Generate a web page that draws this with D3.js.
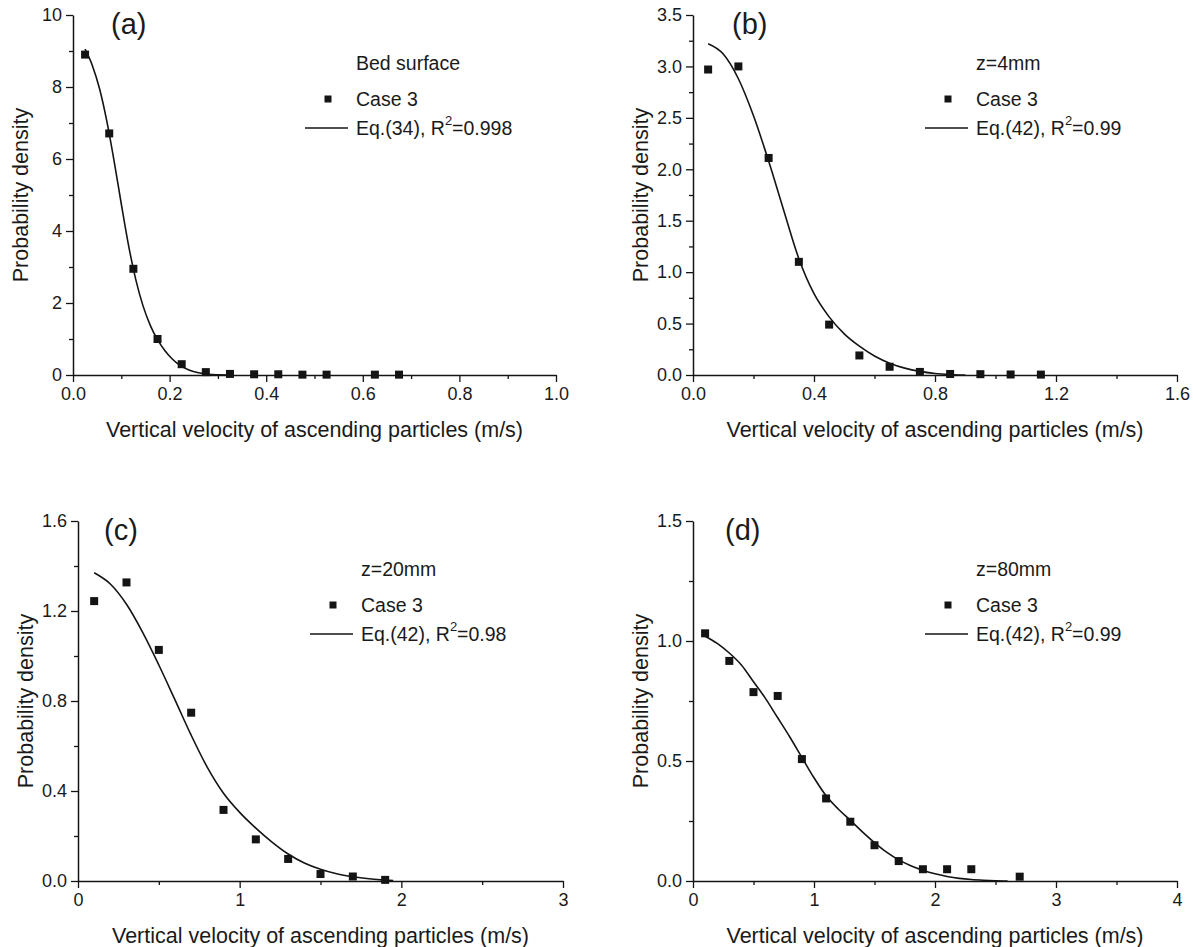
<!DOCTYPE html>
<html>
<head>
<meta charset="utf-8">
<script src="https://cdn.jsdelivr.net/npm/d3@7"></script>
<style>
  body { margin: 0; background: #fff; }
  text { font-family: "Liberation Sans", Arial, Helvetica, sans-serif; fill: #1a1a1a; }
</style>
</head>
<body>
<svg id="fig" width="1193" height="947"></svg>
<script>
// ---- (a) bed surface ----
const aCaseX = [0.025, 0.075, 0.125, 0.175, 0.225, 0.275, 0.325, 0.375, 0.425, 0.475, 0.525, 0.625, 0.675];
const aCaseY = [8.9, 6.71, 2.95, 1.0, 0.3, 0.08, 0.03, 0.02, 0.02, 0.01, 0.01, 0.01, 0.01];
const aFitX = [0.025, 0.04, 0.055, 0.07, 0.085, 0.1, 0.115, 0.13, 0.145, 0.16, 0.175, 0.19, 0.205, 0.22, 0.24, 0.26, 0.28, 0.3, 0.32];
const aFitY = [9.05, 8.6, 7.95, 7.05, 5.95, 4.75, 3.6, 2.65, 1.92, 1.38, 0.98, 0.68, 0.45, 0.28, 0.14, 0.06, 0.02, 0.005, 0];
const aXTicks = [0, 0.2, 0.4, 0.6, 0.8, 1.0];
const aYTicks = [0, 2, 4, 6, 8, 10];

// ---- (b) z = 4 mm ----
const bCaseX = [0.05, 0.15, 0.25, 0.35, 0.45, 0.55, 0.65, 0.75, 0.85, 0.95, 1.05, 1.15];
const bCaseY = [2.97, 3.0, 2.11, 1.1, 0.49, 0.19, 0.08, 0.03, 0.01, 0.008, 0.005, 0.004];
const bFitX = [0.05, 0.1, 0.15, 0.2, 0.25, 0.3, 0.35, 0.4, 0.45, 0.5, 0.55, 0.6, 0.65, 0.7, 0.75, 0.8, 0.85, 0.9];
const bFitY = [3.22, 3.12, 2.88, 2.52, 2.08, 1.6, 1.13, 0.79, 0.565, 0.4, 0.28, 0.185, 0.115, 0.067, 0.035, 0.015, 0.005, 0];
const bXTicks = [0, 0.4, 0.8, 1.2, 1.6];
const bYTicks = [0, 0.5, 1.0, 1.5, 2.0, 2.5, 3.0, 3.5];

// ---- (c) z = 20 mm ----
const cCaseX = [0.1, 0.3, 0.5, 0.7, 0.9, 1.1, 1.3, 1.5, 1.7, 1.9];
const cCaseY = [1.244, 1.327, 1.027, 0.748, 0.316, 0.185, 0.098, 0.031, 0.02, 0.005];
const cFitX = [0.1, 0.2, 0.3, 0.4, 0.5, 0.6, 0.7, 0.8, 0.9, 1.0, 1.1, 1.2, 1.3, 1.4, 1.5, 1.6, 1.7, 1.8, 1.9, 1.95];
const cFitY = [1.37, 1.32, 1.23, 1.105, 0.96, 0.805, 0.648, 0.505, 0.39, 0.305, 0.235, 0.173, 0.12, 0.08, 0.052, 0.032, 0.019, 0.01, 0.004, 0.002];
const cXTicks = [0, 1, 2, 3];
const cYTicks = [0, 0.4, 0.8, 1.2, 1.6];

// ---- (d) z = 80 mm ----
const dCaseX = [0.1, 0.3, 0.5, 0.7, 0.9, 1.1, 1.3, 1.5, 1.7, 1.9, 2.1, 2.3, 2.7];
const dCaseY = [1.032, 0.917, 0.787, 0.771, 0.508, 0.344, 0.247, 0.149, 0.083, 0.049, 0.049, 0.049, 0.018];
const dFitX = [0.1, 0.2, 0.3, 0.4, 0.5, 0.6, 0.7, 0.8, 0.9, 1.0, 1.1, 1.2, 1.3, 1.4, 1.5, 1.6, 1.7, 1.8, 1.9, 2.0, 2.1, 2.2, 2.3, 2.4, 2.5, 2.6];
const dFitY = [1.02, 0.99, 0.95, 0.9, 0.83, 0.76, 0.68, 0.6, 0.515, 0.43, 0.355, 0.3, 0.253, 0.205, 0.16, 0.12, 0.088, 0.064, 0.045, 0.03, 0.019, 0.011, 0.006, 0.003, 0.001, 0];
const dXTicks = [0, 1, 2, 3, 4];
const dYTicks = [0, 0.5, 1.0, 1.5];

const xTitle = "Vertical velocity of ascending particles (m/s)";
const yTitle = "Probability density";
const caseName = "Case 3";

const panels = [
  { tag: "(a)", heading: "Bed surface", eq: "Eq.(34), R", r2: "=0.998",
    px: aCaseX, py: aCaseY, fx: aFitX, fy: aFitY, xt: aXTicks, yt: aYTicks,
    xFmt: d3.format(".1f"), yFmt: d3.format("d"), xMinorStep: 0.1, yMinorStep: 1,
    box: { l: 73, r: 556, t: 15, b: 375 }, tagX: 111 },
  { tag: "(b)", heading: "z=4mm", eq: "Eq.(42), R", r2: "=0.99",
    px: bCaseX, py: bCaseY, fx: bFitX, fy: bFitY, xt: bXTicks, yt: bYTicks,
    xFmt: d3.format(".1f"), yFmt: d3.format(".1f"), xMinorStep: 0.2, yMinorStep: 0.25,
    box: { l: 693, r: 1177, t: 15, b: 375 }, tagX: 732 },
  { tag: "(c)", heading: "z=20mm", eq: "Eq.(42), R", r2: "=0.98",
    px: cCaseX, py: cCaseY, fx: cFitX, fy: cFitY, xt: cXTicks, yt: cYTicks,
    xFmt: d3.format("d"), yFmt: d3.format(".1f"), xMinorStep: 0.5, yMinorStep: 0.2,
    box: { l: 78, r: 563, t: 521, b: 881 }, tagX: 104 },
  { tag: "(d)", heading: "z=80mm", eq: "Eq.(42), R", r2: "=0.99",
    px: dCaseX, py: dCaseY, fx: dFitX, fy: dFitY, xt: dXTicks, yt: dYTicks,
    xFmt: d3.format("d"), yFmt: d3.format(".1f"), xMinorStep: 0.5, yMinorStep: 0.25,
    box: { l: 693, r: 1177, t: 521, b: 881 }, tagX: 725 }
];

const svg = d3.select("#fig");
const ink = "#141414";

function minorTicks(domain, step, majors) {
  const out = [];
  const n = Math.round((domain[1] - domain[0]) / step);
  for (let i = 0; i <= n; i++) {
    const v = +(domain[0] + i * step).toFixed(6);
    if (!majors.some(m => Math.abs(m - v) < 1e-9)) out.push(v);
  }
  return out;
}

function styleAxis(g) {
  g.attr("font-family", null).attr("font-size", null);
  g.selectAll("path.domain").attr("stroke", ink).attr("stroke-width", 1.5);
  g.selectAll(".tick line").attr("stroke", ink).attr("stroke-width", 1.3);
  g.selectAll(".tick text").attr("font-size", 18).attr("fill", "#1a1a1a");
}

panels.forEach(p => {
  const { l, r, t, b } = p.box;
  const xDom = [p.xt[0], p.xt[p.xt.length - 1]];
  const yDom = [p.yt[0], p.yt[p.yt.length - 1]];
  const x = d3.scaleLinear().domain(xDom).range([l, r]);
  const y = d3.scaleLinear().domain(yDom).range([b, t]);
  const g = svg.append("g");

  // minor ticks
  const xm = g.append("g").attr("transform", `translate(0,${b})`)
    .call(d3.axisBottom(x).tickValues(minorTicks(xDom, p.xMinorStep, p.xt)).tickSize(4).tickFormat(""));
  styleAxis(xm); xm.select("path.domain").remove();
  const ym = g.append("g").attr("transform", `translate(${l},0)`)
    .call(d3.axisLeft(y).tickValues(minorTicks(yDom, p.yMinorStep, p.yt)).tickSize(4).tickFormat(""));
  styleAxis(ym); ym.select("path.domain").remove();

  // major axes
  const xa = g.append("g").attr("transform", `translate(0,${b})`)
    .call(d3.axisBottom(x).tickValues(p.xt).tickFormat(p.xFmt).tickSize(7).tickSizeOuter(0).tickPadding(5));
  styleAxis(xa);
  const ya = g.append("g").attr("transform", `translate(${l},0)`)
    .call(d3.axisLeft(y).tickValues(p.yt).tickFormat(p.yFmt).tickSize(7).tickSizeOuter(0).tickPadding(4));
  styleAxis(ya);

  // axis titles
  g.append("text").attr("x", (l + r) / 2).attr("y", b + 62)
    .attr("text-anchor", "middle").attr("font-size", 21.5).text(xTitle);
  g.append("text").attr("transform", `translate(${l - 45.5},${(t + b) / 2}) rotate(-90)`)
    .attr("text-anchor", "middle").attr("font-size", 21.5).text(yTitle);

  // fitted curve
  const line = d3.line().x(d => x(d[0])).y(d => y(d[1])).curve(d3.curveMonotoneX);
  g.append("path").datum(d3.zip(p.fx, p.fy))
    .attr("fill", "none").attr("stroke", ink).attr("stroke-width", 1.6).attr("d", line);

  // measured points
  const s = 8;
  g.selectAll("rect.pt").data(d3.zip(p.px, p.py)).join("rect").attr("class", "pt")
    .attr("x", d => x(d[0]) - s / 2).attr("y", d => y(d[1]) - s / 2)
    .attr("width", s).attr("height", s).attr("fill", ink);

  // panel tag
  g.append("text").attr("x", p.tagX).attr("y", t + 19).attr("font-size", 29).text(p.tag);

  // legend
  const lx = l + 283;
  const fs = 19.5;
  g.append("text").attr("x", lx).attr("y", t + 48).attr("dy", "0.35em").attr("font-size", fs).text(p.heading);
  g.append("rect").attr("x", l + 255 - 3.5).attr("y", t + 84 - 3.5).attr("width", 7).attr("height", 7).attr("fill", ink);
  g.append("text").attr("x", lx).attr("y", t + 84).attr("dy", "0.35em").attr("font-size", fs).text(caseName);
  g.append("line").attr("x1", l + 232).attr("x2", l + 275).attr("y1", t + 113).attr("y2", t + 113)
    .attr("stroke", ink).attr("stroke-width", 1.6);
  const eq = g.append("text").attr("x", lx).attr("y", t + 113).attr("dy", "0.35em").attr("font-size", fs);
  eq.append("tspan").text(p.eq);
  eq.append("tspan").attr("font-size", 13).attr("dy", "-0.75em").text("2");
  eq.append("tspan").attr("dy", "0.5em").text(p.r2);
});
</script>
</body>
</html>
